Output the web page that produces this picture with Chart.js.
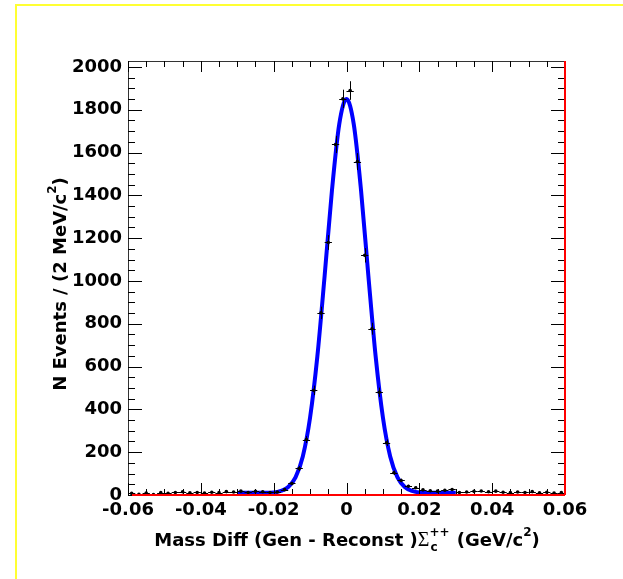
<!DOCTYPE html>
<html>
<head>
<meta charset="utf-8">
<script src="https://cdn.jsdelivr.net/npm/chart.js@4.4.0/dist/chart.umd.min.js"></script>
<style>
  html, body { margin: 0; padding: 0; background: #fff; overflow: hidden; }
  #frame { position: absolute; left: 15px; top: 4px; width: 700px; height: 700px;
           border-top: 2px solid #ffff33; border-left: 2px solid #ffff33; }
  #wrap { position: absolute; left: 0; top: 0; width: 623px; height: 579px; }
</style>
</head>
<body>
<div id="frame"></div>
<div id="wrap"><canvas id="massChart" width="623" height="579"></canvas></div>
<script>
// histogram bins (2 MeV), centres in GeV/c^2
const binCenters = [
  -0.059, -0.057, -0.055, -0.053, -0.051, -0.049, -0.047, -0.045, -0.043, -0.041,
  -0.039, -0.037, -0.035, -0.033, -0.031, -0.029, -0.027, -0.025, -0.023, -0.021,
  -0.019, -0.017, -0.015, -0.013, -0.011, -0.009, -0.007, -0.005, -0.003, -0.001,
   0.001,  0.003,  0.005,  0.007,  0.009,  0.011,  0.013,  0.015,  0.017,  0.019,
   0.021,  0.023,  0.025,  0.027,  0.029,  0.031,  0.033,  0.035,  0.037,  0.039,
   0.041,  0.043,  0.045,  0.047,  0.049,  0.051,  0.053,  0.055,  0.057,  0.059
];
const binCounts = [
   8,  3,  9,  2, 11,  8, 12, 15, 10, 12,
   9, 13, 11, 16, 14, 18, 12, 17, 15, 12,
  14, 25, 54, 124, 259, 489, 851, 1180, 1638, 1851,
  1890, 1558, 1120, 777, 480, 244, 104, 68, 41, 34,
  24, 20, 18, 22, 26, 12, 14, 17, 19, 15,
  18, 13, 11, 14, 12, 16, 10, 13,  9, 11
];
const binHalfWidth = 0.001;

// fitted curve
const fitX = [-0.030, -0.025, -0.020, -0.018, -0.016, -0.014, -0.012, -0.010, -0.008, -0.006, -0.004, -0.002,
              0.000, 0.002, 0.004, 0.006, 0.008, 0.010, 0.012, 0.014, 0.016, 0.018, 0.020, 0.025, 0.030];
const fitY = [10, 10, 12, 19, 37, 82, 180, 362, 648, 1025, 1422, 1732,
              1850, 1732, 1422, 1025, 648, 362, 180, 82, 37, 19, 12, 10, 10];

const xTickValues = [-0.06, -0.04, -0.02, 0, 0.02, 0.04, 0.06];
const xTickLabels = ['-0.06', '-0.04', '-0.02', '0', '0.02', '0.04', '0.06'];
const yTickValues = [0, 200, 400, 600, 800, 1000, 1200, 1400, 1600, 1800, 2000];
const yTickLabels = ['0', '200', '400', '600', '800', '1000', '1200', '1400', '1600', '1800', '2000'];

const boldFont = '"DejaVu Sans", sans-serif';

// ROOT style frame, inward ticks, error bars and titles
const rootFrame = {
  id: 'rootFrame',
  afterDatasetsDraw(chart) {
    const { ctx, chartArea: a, scales: { x, y } } = chart;
    ctx.save();

    // error bars
    ctx.strokeStyle = '#000';
    ctx.lineWidth = 1;
    binCenters.forEach((c, i) => {
      const n = binCounts[i];
      const err = Math.sqrt(n);
      const px = Math.round(x.getPixelForValue(c)) + 0.5;
      const py = Math.round(y.getPixelForValue(n)) + 0.5;
      ctx.beginPath();
      ctx.moveTo(x.getPixelForValue(c - binHalfWidth), py);
      ctx.lineTo(x.getPixelForValue(c + binHalfWidth), py);
      ctx.moveTo(px, y.getPixelForValue(n + err));
      ctx.lineTo(px, Math.min(a.bottom, y.getPixelForValue(n - err)));
      ctx.stroke();
    });

    // frame
    ctx.lineWidth = 1;
    ctx.strokeStyle = '#333';
    ctx.beginPath();
    ctx.moveTo(a.left + 0.5, a.bottom);
    ctx.lineTo(a.left + 0.5, a.top + 0.5);
    ctx.lineTo(a.right, a.top + 0.5);
    ctx.stroke();

    // ticks
    ctx.strokeStyle = '#000';
    ctx.beginPath();
    for (let v = -0.06; v <= 0.0601; v += 0.005) {
      const major = Math.abs(v / 0.02 - Math.round(v / 0.02)) < 1e-6;
      const px = Math.round(x.getPixelForValue(v)) + 0.5;
      ctx.moveTo(px, a.bottom);
      ctx.lineTo(px, a.bottom - (major ? 12 : 6));
      ctx.moveTo(px, a.top);
      ctx.lineTo(px, a.top + (major ? 11 : 6));
    }
    for (let v = 0; v <= 2000; v += 50) {
      const major = v % 200 === 0;
      const py = Math.round(y.getPixelForValue(v)) + 0.5;
      ctx.moveTo(a.left, py);
      ctx.lineTo(a.left + (major ? 14 : 7), py);
      ctx.moveTo(a.right, py);
      ctx.lineTo(a.right - (major ? 14 : 7), py);
    }
    ctx.stroke();

    // red right and bottom edges
    ctx.strokeStyle = '#ff0000';
    ctx.lineWidth = 2;
    ctx.beginPath();
    ctx.moveTo(a.right, a.top);
    ctx.lineTo(a.right, a.bottom);
    ctx.moveTo(a.left + 4, a.bottom);
    ctx.lineTo(a.right, a.bottom);
    ctx.stroke();
    ctx.restore();
  },
  afterDraw(chart) {
    const { ctx, chartArea: a } = chart;
    ctx.save();
    ctx.fillStyle = '#000';
    ctx.textBaseline = 'alphabetic';
    ctx.textAlign = 'left';

    // x title: Mass Diff (Gen - Reconst )Σc++ (GeV/c2)
    const big = 'bold 18px ' + boldFont;
    const small = 'bold 12px ' + boldFont;
    const sig = '20px "Liberation Serif", serif';
    const p1 = 'Mass Diff (Gen - Reconst )', p3 = ' (GeV/c', p4 = ')';
    ctx.font = big;
    const w1 = ctx.measureText(p1).width, w3 = ctx.measureText(p3).width, w4 = ctx.measureText(p4).width;
    ctx.font = sig;
    const ws = ctx.measureText('\u03A3').width;
    ctx.font = small;
    const wc = Math.max(ctx.measureText('c').width, ctx.measureText('++').width);
    const w2 = ctx.measureText('2').width;
    const total = w1 + ws + wc + w3 + w2 + w4;
    let cx = (a.left + a.right) / 2 - total / 2;
    const by = 546;
    ctx.font = big; ctx.fillText(p1, cx, by); cx += w1;
    ctx.font = sig; ctx.fillText('\u03A3', cx, by); cx += ws;
    ctx.font = small; ctx.fillText('c', cx + 1, by + 5); ctx.fillText('++', cx, by - 10); cx += wc + 1;
    ctx.font = big; ctx.fillText(p3, cx, by); cx += w3;
    ctx.font = small; ctx.fillText('2', cx, by - 10); cx += w2;
    ctx.font = big; ctx.fillText(p4, cx, by);

    // y title: N Events / (2 MeV/c2)
    const q1 = 'N Events / (2 MeV/c', q3 = ')';
    ctx.font = big;
    const v1 = ctx.measureText(q1).width, v3 = ctx.measureText(q3).width;
    ctx.font = small;
    const v2 = ctx.measureText('2').width;
    ctx.translate(66, 284);
    ctx.rotate(-Math.PI / 2);
    let cy = -(v1 + v2 + v3) / 2;
    ctx.font = big; ctx.fillText(q1, cy, 0); cy += v1;
    ctx.font = small; ctx.fillText('2', cy, -10); cy += v2;
    ctx.font = big; ctx.fillText(q3, cy, 0);
    ctx.restore();
  }
};

document.addEventListener('DOMContentLoaded', function () {
  const ctx = document.getElementById('massChart').getContext('2d');
  new Chart(ctx, {
    type: 'scatter',
    data: {
      datasets: [{
        label: 'Data',
        data: binCenters.map((c, i) => ({ x: c, y: binCounts[i] })),
        pointRadius: 1.8,
        pointBackgroundColor: '#000',
        pointBorderWidth: 0,
        showLine: false,
        order: 0
      }, {
        type: 'line',
        label: 'Fit',
        data: fitX.map((v, i) => ({ x: v, y: fitY[i] })),
        borderColor: '#0000ff',
        borderWidth: 4,
        pointRadius: 0,
        fill: false,
        cubicInterpolationMode: 'monotone',
        order: 1
      }]
    },
    options: {
      responsive: false,
      animation: false,
      layout: { padding: { left: 0, right: 58, top: 61, bottom: 0 } },
      plugins: { legend: { display: false }, tooltip: { enabled: false } },
      scales: {
        x: {
          type: 'linear',
          min: -0.06,
          max: 0.06,
          grid: { display: false, drawTicks: false },
          border: { display: false },
          afterBuildTicks: s => { s.ticks = xTickValues.map(v => ({ value: v })); },
          afterFit: s => { s.height = 84; },
          ticks: {
            autoSkip: false,
            maxRotation: 0,
            padding: 5,
            color: '#000',
            font: { family: 'DejaVu Sans', weight: 'bold', size: 18 },
            callback: (v, i) => xTickLabels[i]
          }
        },
        y: {
          type: 'linear',
          min: 0,
          max: 2028,
          grid: { display: false, drawTicks: false },
          border: { display: false },
          afterBuildTicks: s => { s.ticks = yTickValues.map(v => ({ value: v })); },
          afterFit: s => { s.width = 128; },
          ticks: {
            autoSkip: false,
            padding: 6,
            color: '#000',
            font: { family: 'DejaVu Sans', weight: 'bold', size: 18 },
            callback: (v, i) => yTickLabels[i]
          }
        }
      }
    },
    plugins: [rootFrame]
  });
});
</script>
</body>
</html>
